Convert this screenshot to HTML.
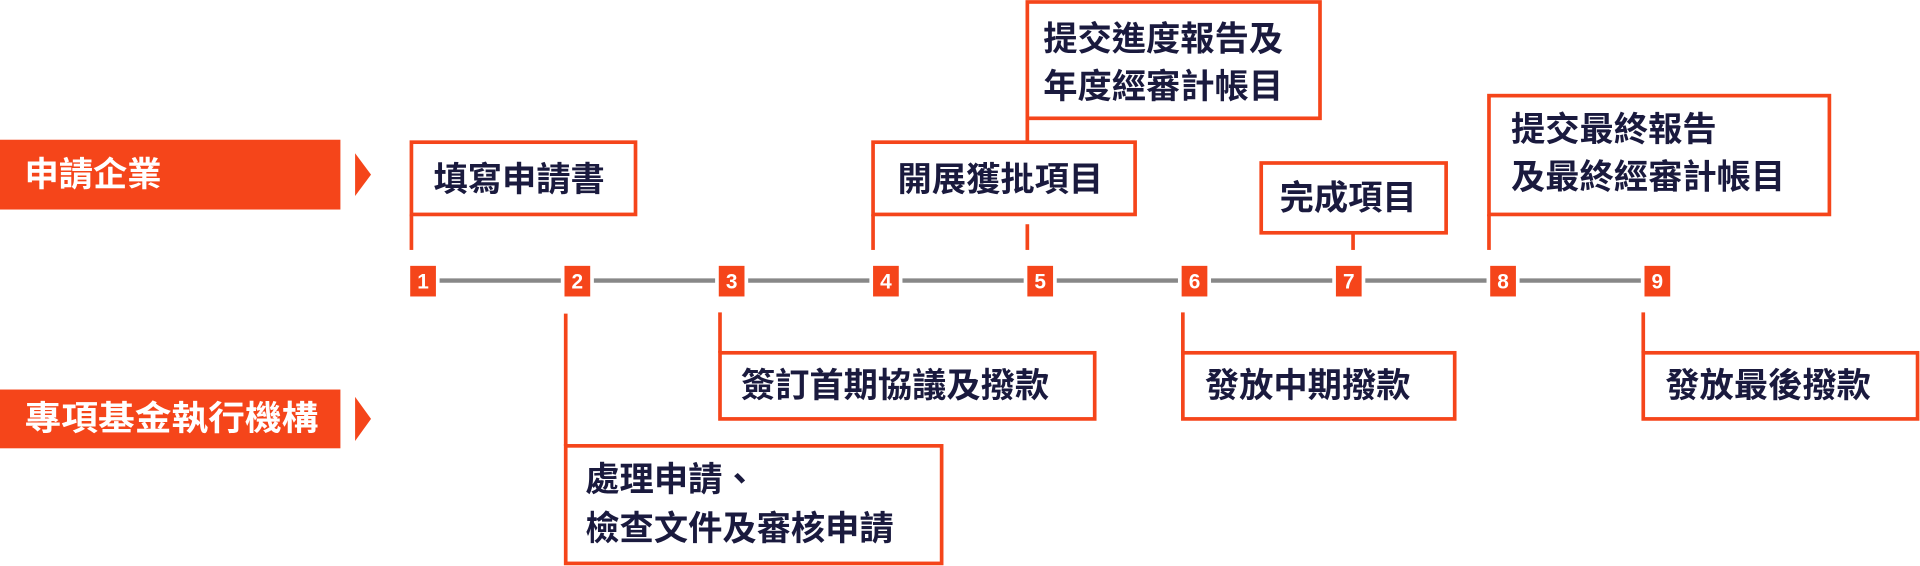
<!DOCTYPE html>
<html><head><meta charset="utf-8"><style>
html,body{margin:0;padding:0;background:#fff;width:1920px;height:566px;overflow:hidden}
svg{display:block}
text{font-family:"Liberation Sans","Noto Sans CJK TC",sans-serif;font-weight:bold}
</style></head><body>
<svg width="1920" height="566" viewBox="0 0 1568 462" xmlns="http://www.w3.org/2000/svg">
<g fill="#f5451a">
<rect x="0" y="114" width="278" height="57"/>
<polygon points="290,125 303,142.5 290,160"/>
<rect x="0" y="318" width="278" height="48"/>
<polygon points="290,324 303,342 290,360"/>
</g>
<g fill="#fff" font-size="28" dominant-baseline="central">
<text x="20" y="143">申請企業</text>
<text x="20" y="342" textLength="240" lengthAdjust="spacingAndGlyphs">專項基金執行機構</text>
</g>
<g stroke="#888" stroke-width="3.5">
<line x1="359" y1="229" x2="458" y2="229"/>
<line x1="485" y1="229" x2="584" y2="229"/>
<line x1="611" y1="229" x2="710" y2="229"/>
<line x1="737" y1="229" x2="836" y2="229"/>
<line x1="863" y1="229" x2="962" y2="229"/>
<line x1="989" y1="229" x2="1088" y2="229"/>
<line x1="1115" y1="229" x2="1214" y2="229"/>
<line x1="1241" y1="229" x2="1340" y2="229"/>
</g>
<g fill="#f5451a">
<rect x="335" y="217" width="21" height="25"/>
<rect x="461" y="217" width="21" height="25"/>
<rect x="587" y="217" width="21" height="25"/>
<rect x="713" y="217" width="21" height="25"/>
<rect x="839" y="217" width="21" height="25"/>
<rect x="965" y="217" width="21" height="25"/>
<rect x="1091" y="217" width="21" height="25"/>
<rect x="1217" y="217" width="21" height="25"/>
<rect x="1343" y="217" width="21" height="25"/>
</g>
<g fill="#fff" font-size="17" text-anchor="middle" dominant-baseline="central">
<text x="345.5" y="230">1</text><text x="471.5" y="230">2</text><text x="597.5" y="230">3</text>
<text x="723.5" y="230">4</text><text x="849.5" y="230">5</text><text x="975.5" y="230">6</text>
<text x="1101.5" y="230">7</text><text x="1227.5" y="230">8</text><text x="1353.5" y="230">9</text>
</g>
<g fill="none" stroke="#f5451a" stroke-width="3">
<rect x="336" y="116" width="183" height="59"/>
<line x1="336" y1="175" x2="336" y2="204"/>
<rect x="713" y="116" width="214" height="59"/>
<line x1="713" y1="175" x2="713" y2="204"/>
<rect x="839" y="1.5" width="239" height="95"/>
<line x1="839" y1="96" x2="839" y2="116"/>
<line x1="839" y1="183" x2="839" y2="204"/>
<rect x="1030" y="133" width="151" height="57"/>
<line x1="1105" y1="190" x2="1105" y2="204"/>
<rect x="1216" y="78" width="278" height="97"/>
<line x1="1216" y1="175" x2="1216" y2="204"/>
<line x1="462" y1="256" x2="462" y2="364"/>
<rect x="462" y="364" width="307" height="96"/>
<line x1="588" y1="255" x2="588" y2="288"/>
<rect x="588" y="288" width="306" height="54"/>
<line x1="966" y1="255" x2="966" y2="288"/>
<rect x="966" y="288" width="222" height="54"/>
<line x1="1342" y1="255" x2="1342" y2="288"/>
<rect x="1342" y="288" width="224" height="54"/>
</g>
<g fill="#1a1a3e" font-size="28" dominant-baseline="central">
<text x="354" y="147">填寫申請書</text>
<text x="733" y="147">開展獲批項目</text>
<text x="852" y="32">提交進度報告及</text>
<text x="852" y="71">年度經審計帳目</text>
<text x="1045" y="162">完成項目</text>
<text x="1234" y="106">提交最終報告</text>
<text x="1234" y="145">及最終經審計帳目</text>
<text x="605" y="315">簽訂首期協議及撥款</text>
<text x="984" y="315">發放中期撥款</text>
<text x="1360" y="315">發放最後撥款</text>
<text x="478" y="392">處理申請、</text>
<text x="478" y="432">檢查文件及審核申請</text>
</g>
</svg>
</body></html>
